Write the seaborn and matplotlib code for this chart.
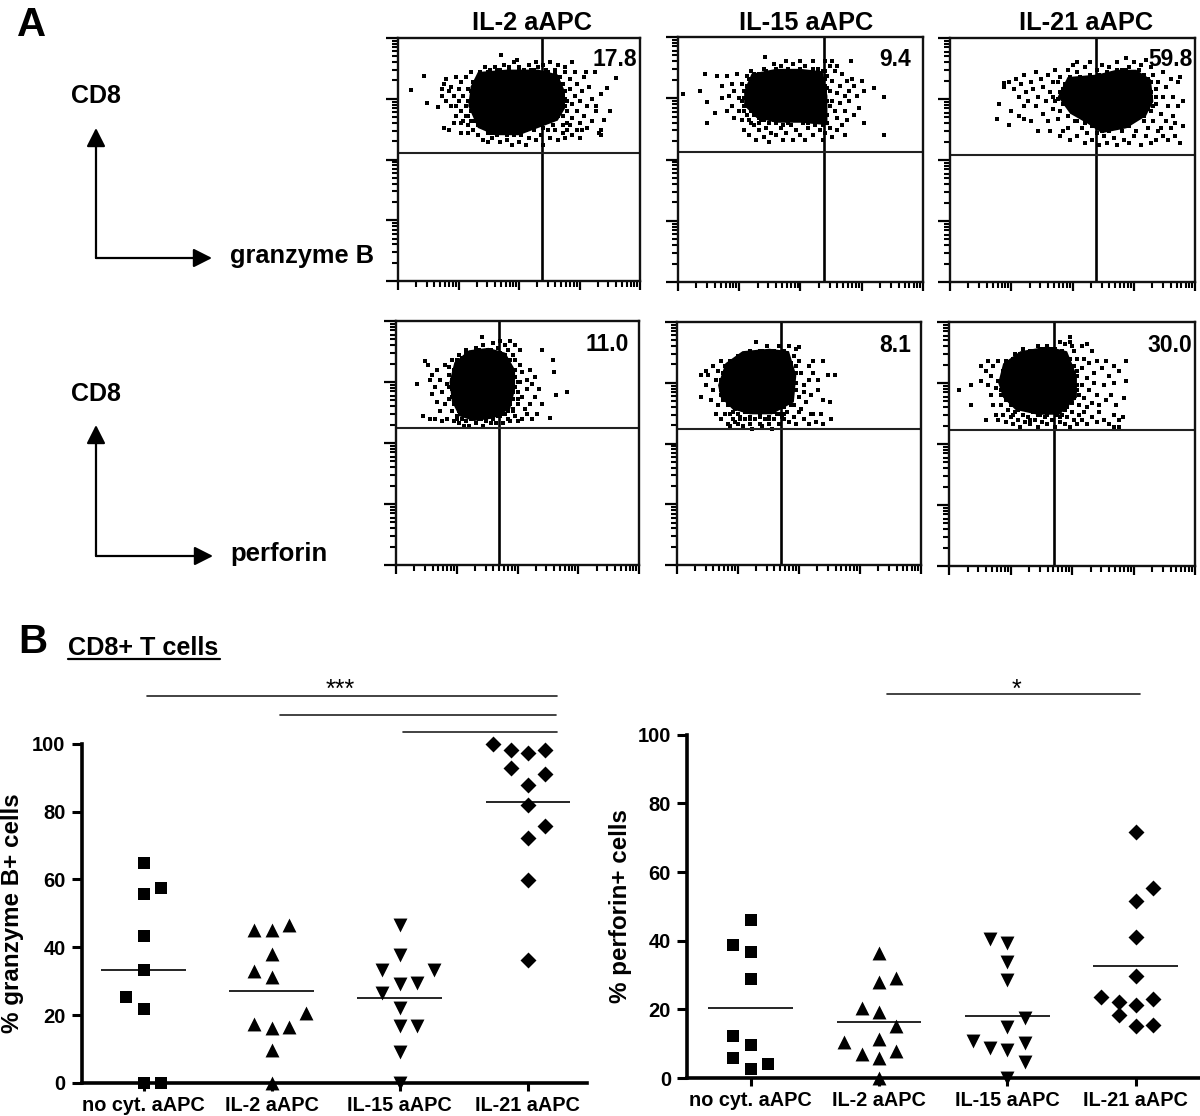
import numpy as np
import pandas as pd
import seaborn as sns
import matplotlib.pyplot as plt

# flow plots: columns are granzyme B row then perforin row, axes in % of plot width (25 = one decade)
flow_titles = ["IL-2 aAPC", "IL-15 aAPC", "IL-21 aAPC"]
gzb_pct = ["17.8", "9.4", "59.8"]
prf_pct = ["11.0", "8.1", "30.0"]
gzb_gate_x = [59.4, 59.6, 59.6]
gzb_gate_y = [52.7, 53.0, 52.2]
prf_gate_x = [42.4, 42.7, 42.5]
prf_gate_y = [56.0, 56.0, 55.7]

# solid middle of each cloud
gzb_il2_core = [(29,72),(30,80),(33,86),(45,87),(58,87),(66,85),(69,78),(69,71),(66,66),(58,63),(50,60),(40,60),(33,63)]
gzb_il15_core = [(27,78),(30,85),(40,87),(50,87),(59,86),(61,76),(61,64),(50,65),(40,65),(32,67),(27,72)]
gzb_il21_core = [(44,76),(48,84),(60,85),(68,87),(76,87),(82,83),(83,74),(80,68),(72,63),(62,61),(56,65),(49,69)]
prf_il2_core = [(22,75),(24,83),(30,88),(38,89),(45,87),(49,80),(49,72),(47,64),(40,60),(32,59),(26,61),(23,67)]
prf_il15_core = [(17,74),(20,83),(27,88),(38,89),(46,88),(49,78),(48,67),(39,62),(30,62),(23,64),(18,69)]
prf_il21_core = [(20,75),(22,83),(29,88),(40,90),(48,88),(52,78),(52,69),(45,62),(36,62),(27,64),(22,69)]

# events packed right against the core
gzb_il2_ring = [(31,72),(31,76),(32,66),(33,64),(32,82),(34,83),(35,67),(36,63),(38,62),(39,61),(40,63),(45,60),(47,62),(49,61),(53,62),(55,63),(58,65),(60,66),(62,66),(64,68),(65,70),(67,74),(67,76),(67,80),(66,83),(65,85),(62,86),(56,87),(50,87),(46,87),(41,87),(37,86),(34,85),(30,78),(30,70),(29,74),(29,68),(70,74),(69,78),(68,76),(69,72),(66,68),(68,64),(70,62),(60,63),(64,64)]
gzb_il15_ring = [(28,76),(28,80),(28,72),(29,83),(30,70),(31,68),(33,67),(35,66),(37,65),(39,66),(43,66),(45,65),(48,66),(50,66),(53,65),(55,66),(59,67),(60,69),(60,73),(60,78),(60,83),(59,86),(55,87),(50,87),(45,87),(40,87),(36,86),(33,85),(31,85),(27,75),(26,74),(27,70),(29,66),(33,65),(61,74),(61,79),(62,72),(61,65),(59,64),(43,64)]
gzb_il21_ring = [(46,76),(46,73),(48,73),(49,72),(51,70),(53,70),(55,68),(56,66),(58,66),(60,64),(62,62),(65,63),(68,64),(71,64),(74,66),(76,67),(79,68),(81,71),(82,74),(82,78),(81,83),(79,85),(77,87),(72,87),(68,87),(64,86),(61,85),(57,85),(53,84),(49,84),(47,81),(45,78),(44,82),(43,74),(42,76),(48,68),(52,66),(55,65),(83,72),(84,76),(60,66)]
prf_il2_ring = [(23,72),(23,76),(24,80),(25,84),(27,85),(29,87),(34,88),(39,88),(43,87),(45,86),(47,84),(48,77),(48,71),(47,66),(46,63),(43,61),(40,60),(35,60),(31,60),(28,62),(26,63),(24,66),(22,73),(23,69),(22,81),(49,80),(49,73),(50,75),(48,64),(25,60),(45,62),(50,68)]
prf_il15_ring = [(18,72),(18,76),(19,79),(20,82),(22,84),(25,86),(30,87),(35,88),(40,88),(44,87),(47,83),(48,75),(47,70),(47,66),(44,65),(40,63),(36,63),(32,63),(28,63),(24,64),(21,66),(19,68),(22,62),(26,60),(34,62),(42,62),(49,72),(49,79),(30,60),(38,60),(44,62)]
prf_il21_ring = [(21,72),(21,76),(22,80),(23,84),(26,85),(29,87),(34,88),(38,89),(42,89),(46,88),(49,85),(50,82),(51,78),(51,72),(50,67),(47,64),(44,63),(40,62),(36,62),(32,64),(28,64),(25,66),(23,68),(52,74),(52,80),(53,70),(26,62),(33,60),(45,61),(48,65)]

# single events around the core, read by eye
gzb_il2_dots = [(10.8,84.5),(5.3,78.4),(12,73.4),(16.6,71.4),(42.5,92.9),(19,63),(21,62),(26,61),(90,83.5),(87.5,70),(86.4,79.4),(85.3,66.3),(83.7,60),(81.6,85.9),(77.5,86),
    (18,79),(18,76),(19,81),(20,74),(20,83),(21,78),(22,72),(22,80),(23,76),(24,68),(24,84),(25,74),(25,79),(26,70),(26,82),(27,66),(27,76),(28,72),(28,84),(28,68),(29,64),(29,79),(30,86),(30,74),(30,66),(31,70),(31,82),(31,62),(24,72),(26,65),(23,65),(29,61),
    (33,60),(35,58),(37,61),(37,57),(39,59),(41,60),(42,57),(44,61),(45,58),(47,56),(48,60),(50,57),(51,60),(53,56),(54,59),(56,62),(57,58),(59,60),(60,56),(62,62),(63,59),(65,62),(66,58),(68,61),(69,59),(71,64),(72,60),(74,62),(75,59),
    (67,84),(67,78),(67,72),(68,68),(68,81),(69,75),(69,86),(70,70),(70,65),(71,79),(71,83),(72,73),(72,67),(73,86),(73,76),(74,70),(74,81),(75,65),(75,74),(76,78),(77,68),(77,84),(78,72),(78,63),(79,80),(80,75),(80,66),(82,72),(82,70),(84,77),(84,62),(83,61),(76,62),
    (34,86),(36,88),(40,88),(42,87),(44,89),(46,88),(48,90),(50,88),(52,87),(49,91),(54,89),(55,87),(57,90),(58,88),(60,89),(61,87),(63,90),(65,87),(66,89),(69,88),(72,90),(38,87)]
gzb_il15_dots = [(2,76.6),(8.8,78),(11,85),(12,73.5),(12,65),(15,69),(35.7,92),(84,60),(84,75.5),(80,79),(76,65),(70.6,90),
    (16,84),(18,80),(20,84),(21,76),(22,81),(22,72),(23,78),(24,85),(25,75),(25,70),(26,81),(26,66),(27,72),(27,78),(28,84),(28,68),(20,70),(18,75),(23,67),(30,65),(30,86),
    (27,62),(29,60),(31,64),(32,58),(33,62),(34,66),(35,59),(36,63),(37,57),(38,61),(40,65),(40,60),(42,63),(43,58),(44,61),(46,64),(47,58),(48,62),(50,60),(51,65),(52,58),(53,63),(55,60),(56,64),(57,66),(58,62),(59,58),(60,61),(62,63),(63,59),(65,62),(67,64),(68,60),
    (60,86),(60,80),(60,76),(60,71),(61,84),(61,68),(62,78),(62,88),(63,74),(63,82),(64,70),(64,86),(65,77),(65,67),(66,80),(66,73),(67,85),(68,76),(68,70),(69,82),(69,66),(70,78),(70,74),(71,83),(72,68),(72,80),(73,76),(74,71),(75,82),(76,78),
    (35,87),(39,89),(42,88),(44,90),(47,89),(50,90),(52,88),(55,90),(57,87),(60,90),(63,90),(65,88)]
gzb_il21_dots = [(19,67),(20,73),(24,64.5),(22,81.5),
    (22,80),(24,82),(26,79),(27,83),(28,76),(29,81),(30,85),(31,78),(32,74),(33,82),(34,79),(35,72),(35,86),(36,76),(37,83),(38,80),(38,69),(39,74),(40,85),(40,66),(41,78),(42,71),(42,82),(43,87),(44,75),(44,67),(45,84),(45,70),(46,79),(46,62),(28,68),(25,70),(30,67),(33,66),(36,62),(30,72),(41,62),
    (48,87),(50,89),(52,86),(55,88),(57,90),(60,87),(62,89),(65,88),(68,90),(70,87),(72,92),(75,90),(73,88),(78,89),(80,91),(77,87),(52,90),
    (82,88),(82,82),(82,76),(82,70),(83,85),(83,66),(84,79),(84,73),(85,82),(85,62),(86,69),(87,86),(87,76),(87,60),(88,80),(88,66),(89,72),(90,83),(90,63),(91,76),(91,68),(92,60),(93,82),(93,72),(95,74),(95,64),(94,84),
    (45,60),(48,63),(49,58),(51,66),(52,60),(54,63),(55,57),(56,61),(58,64),(58,58),(60,61),(61,56),(63,60),(64,57),(65,62),(67,59),(68,56),(70,62),(71,58),(73,64),(73,57),(75,60),(76,62),(78,56),(79,66),(80,60),(81,63),(82,57),(84,58),(86,63),(89,58),(92,65),(94,57),(66,64),(63,63)]
prf_il2_dots = [(8.6,74),(12,83.5),(11,61),(70.5,70.8),(66,69.7),(64.5,84),(65,79),(63.4,60.4),(35.5,93.3),
    (13,82),(14,76),(15,70),(15,78),(16,73),(17,80),(17,67),(18,76),(18,63),(19,71),(20,82),(20,66),(21,74),(21,60),(22,78),(22,68),(23,84),(23,63),(16,60),(19,59),(14,60),
    (24,59),(25,61),(26,58),(27,60),(28,57),(29,59),(30,57),(31,60),(33,58),(34,60),(36,57),(37,59),(38,61),(39,58),(40,60),(41,58),(42,61),(44,58),(44,62),(46,60),(47,59),(48,63),(49,61),(50,59),(52,60),(54,62),(56,60),
    (48,86),(48,80),(48,74),(48,68),(49,77),(49,84),(50,71),(50,66),(51,82),(51,75),(52,69),(52,79),(53,64),(54,76),(54,72),(55,80),(55,66),(56,74),(57,69),(58,62),(59,72),(60,66),(57,77),(60,88),
    (26,86),(29,88),(33,89),(36,90),(38,88),(40,91),(42,89),(43,92),(45,90),(46,88),(47,92),(49,90),(51,88)]
prf_il15_dots = [(10,78),(10,69),(12,80),(65,78),(63,60),(62.6,67),(32.7,91.8),(50,89.6),
    (12,74),(13,78),(14,68),(15,82),(15,72),(16,76),(16,62),(17,80),(17,66),(18,84),(18,70),(18,60),(20,62),(21,58),(21,66),(23,60),(25,62),
    (22,57),(23,63),(24,59),(25,58),(26,61),(27,57),(28,60),(29,63),(30,58),(30,61),(31,56),(32,60),(33,63),(34,58),(34,61),(35,57),(36,60),(37,63),(38,58),(38,61),(39,56),(40,60),(41,62),(42,58),(43,61),(44,60),(45,63),(46,59),(48,61),(49,58),(50,63),(52,60),(54,58),(56,62),(57,59),(59,62),(60,58),
    (48,86),(48,78),(48,72),(48,66),(49,82),(49,75),(50,69),(50,84),(51,79),(51,64),(52,74),(52,71),(53,67),(54,82),(54,76),(55,70),(55,62),(56,79),(56,84),(58,76),(58,72),(60,68),(60,84),(62,78),
    (27,86),(30,88),(34,88),(37,90),(40,88),(42,90),(44,88),(46,90),(49,89)]
prf_il21_dots = [(4,72),(9,66),(9,74),(13,82),(72,84),(72,76),(71,69),(70.6,61),
    (15,80),(16,84),(16,74),(17,70),(17,78),(18,66),(18,82),(19,73),(19,62),(20,76),(20,84),(20,60),(21,70),(21,66),(15,60),(13,76),
    (22,62),(23,59),(24,64),(25,61),(26,58),(27,63),(28,60),(29,57),(30,62),(31,59),(32,61),(33,58),(34,63),(35,60),(36,57),(37,62),(38,59),(39,61),(40,58),(41,63),(42,60),(43,57),(44,62),(45,59),(46,62),(47,58),(48,61),(49,57),(50,63),(51,60),(52,58),(53,62),(54,60),(55,63),(56,58),(58,61),(60,59),(61,63),(63,60),(65,58),(67,62),(69,60),(69,57),(67,57),
    (51,88),(51,82),(51,75),(51,69),(52,85),(52,78),(52,72),(53,66),(54,90),(54,81),(54,74),(55,69),(55,85),(56,77),(56,65),(57,83),(57,72),(58,67),(58,88),(59,79),(59,75),(60,70),(60,84),(61,66),(62,81),(63,74),(64,68),(64,84),(65,78),(66,70),(67,82),(67,75),(68,66),(69,80),
    (27,87),(30,89),(33,88),(36,90),(40,90),(43,89),(45,92),(47,91),(49,92),(50,90),(56,91),(49,94)]

# panel B values, step = how many places the point sits off the group centre
groups = ["no cyt. aAPC", "IL-2 aAPC", "IL-15 aAPC", "IL-21 aAPC"]
gzb_nocyt = [64.8, 55.6, 57.4, 43.2, 33.4, 25.3, 21.9, 0, 0]
gzb_nocyt_step = [0, 0, 1, 0, 0, -1, 0, 0, 1]
gzb_il2 = [45.1, 45.1, 46.7, 38, 33, 31.3, 20.7, 17.5, 16.3, 16.5, 9.8, 0]
gzb_il2_step = [-1, 0, 1, 0, -1, 0, 2, -1, 0, 1, 0, 0]
gzb_il15 = [46.6, 37.7, 33.2, 33.2, 29.2, 29.4, 26.5, 22, 16.9, 16.9, 9.2, 0]
gzb_il15_step = [0, 0, -1, 2, 0, 1, -1, 0, 0, 1, 0, 0]
gzb_il21 = [100, 98, 97.2, 98, 92.7, 91, 87.8, 81.8, 75.8, 72.1, 59.8, 36.2]
gzb_il21_step = [-2, -1, 0, 1, -1, 1, 0, 0, 1, 0, 0, 0]
gzb_means = [33.4, 27, 25, 82.7]

prf_nocyt = [46.1, 38.8, 36.7, 28.8, 12.2, 9.5, 5.8, 4, 2.5]
prf_nocyt_step = [0, -1, 0, 0, -1, 0, -1, 1, 0]
prf_il2 = [36.3, 29, 28, 20.4, 19.3, 15.1, 11.3, 10.6, 7.9, 7, 5.8, 0]
prf_il2_step = [0, 1, 0, -1, 0, 1, 0, -2, 1, -1, 0, 0]
prf_il15 = [40.6, 39.2, 33.9, 28.5, 17.4, 15, 10.9, 10.1, 8.8, 8.2, 4.6, 0]
prf_il15_step = [-1, 0, 0, 0, 1, 0, -2, 1, -1, 0, 1, 0]
prf_il21 = [71.6, 55.2, 51.7, 41.1, 29.8, 23.5, 22.9, 22, 21.2, 18.3, 15.1, 15.3]
prf_il21_step = [0, 1, 0, 0, 0, -2, 1, -1, 0, -1, 0, 1]
prf_means = [20.5, 16.2, 18.1, 32.5]

sns.set_theme(style="white")
plt.rcParams["font.family"] = ["Liberation Sans", "DejaVu Sans"]
plt.rcParams["font.weight"] = "bold"
plt.rcParams["text.color"] = "black"
plt.rcParams["xtick.color"] = "black"
plt.rcParams["ytick.color"] = "black"

W, H = 1200, 1116
fig = plt.figure(figsize=(W / 100, H / 100), dpi=100)


def px_axes(l, t, r, b):
    return fig.add_axes([l / W, 1 - b / H, (r - l) / W, (b - t) / H])


def flow_panel(box, core, dots, gate_x, gate_y, pct, pct_x, pct_y):
    ax = px_axes(*box)
    ax.fill(*zip(*core), color="black", lw=0)
    df = pd.DataFrame(dots, columns=["x", "y"])
    sns.scatterplot(data=df, x="x", y="y", marker="s", s=12, color="black", linewidth=0, ax=ax)
    ax.axvline(gate_x, color="black", lw=1.9)
    ax.axhline(gate_y, color="#222222", lw=1.5)
    ax.set_xlim(0, 100)
    ax.set_ylim(0, 100)
    ax.set_xlabel("")
    ax.set_ylabel("")
    major = [0, 25, 50, 75, 100]
    minor = [25 * (d + np.log10(k)) for d in range(4) for k in range(2, 10)]
    ax.set_xticks(major)
    ax.set_yticks(major)
    ax.set_xticks(minor, minor=True)
    ax.set_yticks(minor, minor=True)
    ax.tick_params(axis="x", which="major", length=6.5, width=1.6, bottom=True, labelbottom=False)
    ax.tick_params(axis="y", which="major", length=8.5, width=1.6, left=True, labelleft=False)
    ax.tick_params(axis="both", which="minor", length=4.5, width=1.5, bottom=True, left=True)
    for s in ax.spines.values():
        s.set_linewidth(1.7)
        s.set_color("#111111")
    ax.text(pct_x, pct_y, pct, ha="right", va="center", fontsize=16.5,
            transform=ax.transData, clip_on=False)
    return ax


flow_panel((398, 38, 640, 281), gzb_il2_core, gzb_il2_dots + gzb_il2_ring, gzb_gate_x[0], gzb_gate_y[0], gzb_pct[0], 98.8, 91)
flow_panel((678, 37, 923, 282), gzb_il15_core, gzb_il15_dots + gzb_il15_ring, gzb_gate_x[1], gzb_gate_y[1], gzb_pct[1], 95, 91)
flow_panel((950, 38, 1195, 282), gzb_il21_core, gzb_il21_dots + gzb_il21_ring, gzb_gate_x[2], gzb_gate_y[2], gzb_pct[2], 99, 91)
flow_panel((396, 321, 639, 565), prf_il2_core, prf_il2_dots + prf_il2_ring, prf_gate_x[0], prf_gate_y[0], prf_pct[0], 96, 90.5)
flow_panel((676.5, 322, 921, 565), prf_il15_core, prf_il15_dots + prf_il15_ring, prf_gate_x[1], prf_gate_y[1], prf_pct[1], 96, 90.5)
flow_panel((949, 322, 1195, 566), prf_il21_core, prf_il21_dots + prf_il21_ring, prf_gate_x[2], prf_gate_y[2], prf_pct[2], 99, 90.5)

markers = ["s", "^", "v", "D"]
marker_sizes = [78, 100, 100, 66]
step_w = 0.135


def dot_panel(box, xlim, series, steps, means, ylabel, label_x):
    ax = px_axes(*box)
    for i, (vals, st) in enumerate(zip(series, steps)):
        df = pd.DataFrame({"x": [i + s * step_w for s in st], "y": vals})
        sns.scatterplot(data=df, x="x", y="y", marker=markers[i], s=marker_sizes[i],
                        color="black", linewidth=0, clip_on=False, zorder=3, ax=ax)
    ax.hlines(means, [i - 0.33 for i in range(4)], [i + 0.33 for i in range(4)],
              color="black", lw=1.2, zorder=4)
    ax.set_xlim(*xlim)
    ax.set_ylim(0, 100)
    ax.set_xticks(range(4), groups, fontsize=14.3)
    ax.set_yticks(range(0, 101, 20))
    ax.tick_params(axis="y", length=7, width=2.2, pad=4.5, labelsize=14.5, left=True)
    ax.tick_params(axis="x", length=6, width=2.2, pad=3.5, bottom=True)
    ax.set_xlabel("")
    ax.set_ylabel("")
    sns.despine(ax=ax)
    ax.spines["left"].set_linewidth(2.6)
    ax.spines["bottom"].set_linewidth(2.6)
    ax.spines["left"].set_color("black")
    ax.spines["bottom"].set_color("black")
    fig.text(label_x / W, 1 - (box[1] + box[3]) / 2 / H, ylabel, rotation=90, ha="center", va="center", fontsize=17.4)
    return ax


ax_left = dot_panel((81.5, 743.7, 587, 1083), (-0.484, 3.462),
                    [gzb_nocyt, gzb_il2, gzb_il15, gzb_il21],
                    [gzb_nocyt_step, gzb_il2_step, gzb_il15_step, gzb_il21_step],
                    gzb_means, "% granzyme B+ cells", 13)
ax_right = dot_panel((687, 734.7, 1200, 1078), (-0.497, 3.5),
                     [prf_nocyt, prf_il2, prf_il15, prf_il21],
                     [prf_nocyt_step, prf_il2_step, prf_il15_step, prf_il21_step],
                     prf_means, "% perforin+ cells", 620)

# significance bars sit above the axes
for y, x0, x1 in [(114.1, 0.03, 3.23), (108.5, 1.065, 3.22), (103.5, 2.025, 3.23)]:
    ax_left.plot([x0, x1], [y, y], color="#222222", lw=1.2, clip_on=False)
ax_right.plot([1.06, 3.03], [112, 112], color="#222222", lw=1.2, clip_on=False)

# labels and arrows, in figure pixels
over = fig.add_axes([0, 0, 1, 1], facecolor="none")
over.set_xlim(0, W)
over.set_ylim(H, 0)
over.axis("off")

over.text(340, 690, "***", ha="center", va="center", fontsize=18, fontweight="normal")
over.text(1016, 690, "*", ha="center", va="center", fontsize=18, fontweight="normal")

title_x = [532, 806, 1086]
for x, t in zip(title_x, flow_titles):
    over.text(x, 23, t, ha="center", va="center", fontsize=18.3)

over.text(17, 36, "A", ha="left", va="baseline", fontsize=29)
over.text(18, 653, "B", ha="left", va="baseline", fontsize=29)
over.text(68, 655, "CD8+ T cells", ha="left", va="baseline", fontsize=18.2)
over.plot([68, 220], [659, 659], color="black", lw=1.6)

over.text(71, 103, "CD8", ha="left", va="baseline", fontsize=18)
over.text(71, 401, "CD8", ha="left", va="baseline", fontsize=18)
over.text(230, 263, "granzyme B", ha="left", va="baseline", fontsize=18.3)
over.text(230, 561, "perforin", ha="left", va="baseline", fontsize=18.5)

arrow = dict(arrowstyle="-|>,head_length=0.75,head_width=0.38", color="black", lw=1.6, shrinkA=0, shrinkB=0, mutation_scale=15)
for yb, ytop, xr in [(258, 128, 212), (556, 425, 213)]:
    over.annotate("", xy=(96, ytop), xytext=(96, yb), arrowprops=arrow)
    over.annotate("", xy=(xr, yb), xytext=(96, yb), arrowprops=arrow)

plt.savefig("out.png", dpi=100)
